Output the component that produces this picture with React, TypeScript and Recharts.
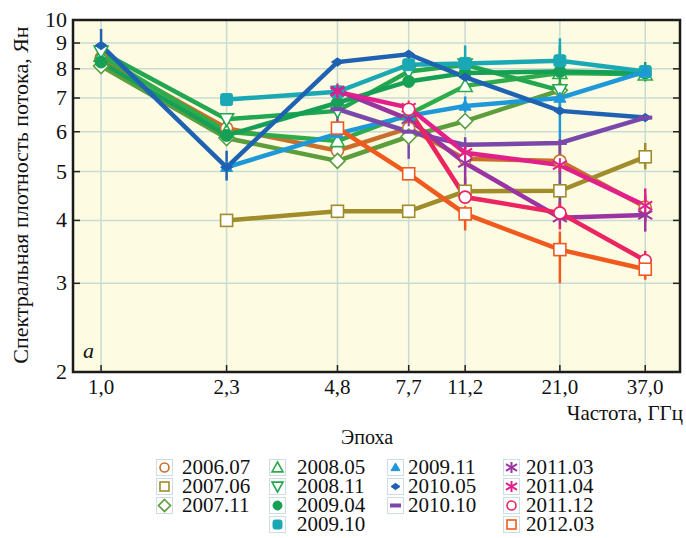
import React from 'react';
import { LineChart, Line, XAxis, YAxis, CartesianGrid, ReferenceArea, ErrorBar, Legend } from 'recharts';

// ---------- data ----------
const freqs = [1.0, 2.3, 4.8, 7.7, 11.2, 21.0, 37.0];
const yTicks = [2, 3, 4, 5, 6, 7, 8, 9, 10];
const epochs = ['2006.07', '2007.06', '2007.11', '2008.05', '2008.11', '2009.04', '2009.10',
  '2009.11', '2010.05', '2010.10', '2011.03', '2011.04', '2011.12', '2012.03'];

const v200607 = [8.4, 6.1, 5.5, 6.1, 5.3, 5.25, 4.25];
const v200706 = [null, 4.0, 4.17, 4.17, 4.57, 4.58, 5.35];
const v200711 = [8.1, 5.83, 5.25, 5.87, 6.3, 7.25, null];
const v200805 = [8.5, 6.0, 5.75, 6.5, 7.4, 7.85, 7.8];
const v200811 = [8.65, 6.35, 6.6, 7.9, 8.15, 7.25, null];
const v200904 = [8.25, 5.9, 6.85, 7.55, 7.85, 7.9, 7.85];
const v200910 = [null, 6.95, 7.2, 8.15, 8.2, 8.3, 7.9];
const v200911 = [null, 5.1, 5.95, 6.45, 6.75, 7.0, 7.9];
const v201005 = [8.9, 5.1, 8.25, 8.55, 7.7, 6.6, 6.4];
const v201010 = [null, null, 6.65, 6.0, 5.65, 5.7, 6.4];
const v201103 = [null, null, 7.25, 6.35, 5.2, 4.05, 4.1];
const v201104 = [null, null, 7.2, 6.7, 5.45, 5.15, 4.28];
const v201112 = [null, null, null, 6.65, 4.45, 4.14, 3.33];
const v201203 = [null, null, 6.1, 4.95, 4.12, 3.5, 3.2];

// error bars [down, up] per frequency (null = none)
const e200607 = [null, null, null, null, null, [0.3, 0.5], null];
const e200706 = [null, [0.1, 0.1], null, null, [0.2, 0.3], [0.4, 1.2], [0.3, 0.35]];
const e200711 = [null, null, null, null, null, null, null];
const e200805 = [null, null, null, null, null, null, null];
const e200811 = [null, null, null, null, null, null, null];
const e200904 = [null, null, null, null, null, [1.3, 1.0], [0.3, 0.4]];
const e200910 = [null, null, null, null, [0.1, 0.7], [0.6, 0.9], null];
const e200911 = [null, null, null, null, [0.2, 0.3], [1.3, 0.3], null];
const e201005 = [[0.3, 0.7], [0.3, 0.4], null, null, null, null, null];
const e201010 = [null, null, [0.6, 0.1], [0.7, 0.3], [0.1, 0.2], [1.6, 0.1], null];
const e201103 = [null, null, null, null, [0.5, 0.4], null, [0.3, 0.4]];
const e201104 = [null, null, null, null, null, null, [0.3, 0.35]];
const e201112 = [null, null, null, null, null, [0.3, 0.2], [0.1, 0.15]];
const e201203 = [null, null, null, null, [0.3, 0.15], [0.5, 0.3], [0.15, 0.1]];

const values = [v200607, v200706, v200711, v200805, v200811, v200904, v200910,
  v200911, v201005, v201010, v201103, v201104, v201112, v201203];
const errors = [e200607, e200706, e200711, e200805, e200811, e200904, e200910,
  e200911, e201005, e201010, e201103, e201104, e201112, e201203];

// ---------- styles ----------
const colors = ['#c8702a', '#a08c2a', '#5c9e3c', '#2eab4a', '#22a750', '#16a055', '#1aa9b4',
  '#1e98d8', '#1f62b2', '#7a48aa', '#9a34a2', '#e2208c', '#ec2462', '#f05a1e'];
const shapes = ['circle', 'square', 'diamond', 'triUp', 'triDown', 'octFilled', 'sqFilled',
  'triFilled', 'diaFilled', 'dash', 'star', 'star', 'circle', 'square'];
const legendCols = [[0, 1, 2], [3, 4, 5, 6], [7, 8, 9], [10, 11, 12, 13]];
const legendIconX = [164, 277, 395, 511];
const legendTextX = [182, 297, 408, 526];

const FONT = '"Times New Roman", "Liberation Serif", Tinos, "Nimbus Roman", Times, serif';
const PL = 73, PR = 680, PT = 20, PB = 372;

const series = epochs.map((name, i) => ({
  name,
  data: freqs
    .map((f, j) => ({ f, v: values[i][j], e: errors[i][j] || [0, 0] }))
    .filter((d) => d.v !== null),
}));

function Marker({ shape, color, cx, cy, s = 6 }: any) {
  const sw = 1.6;
  switch (shape) {
    case 'circle':
      return <circle cx={cx} cy={cy} r={s} fill="#fff" stroke={color} strokeWidth={sw} />;
    case 'square':
      return <rect x={cx - s} y={cy - s} width={2 * s} height={2 * s} fill="#fff" stroke={color} strokeWidth={sw} />;
    case 'diamond': {
      const d = s + 1.5;
      return <polygon points={`${cx},${cy - d} ${cx + d},${cy} ${cx},${cy + d} ${cx - d},${cy}`} fill="#fff" stroke={color} strokeWidth={sw} />;
    }
    case 'triUp': {
      const d = s + 1;
      return <polygon points={`${cx},${cy - d} ${cx + d},${cy + d * 0.8} ${cx - d},${cy + d * 0.8}`} fill="#fff" stroke={color} strokeWidth={sw} />;
    }
    case 'triDown': {
      const d = s + 1;
      return <polygon points={`${cx},${cy + d} ${cx + d},${cy - d * 0.8} ${cx - d},${cy - d * 0.8}`} fill="#fff" stroke={color} strokeWidth={sw} />;
    }
    case 'octFilled':
      return <circle cx={cx} cy={cy} r={s} fill={color} stroke={color} strokeWidth={1} />;
    case 'sqFilled':
      return <rect x={cx - s} y={cy - s} width={2 * s} height={2 * s} rx={2} fill={color} stroke={color} strokeWidth={1} />;
    case 'triFilled': {
      const d = s;
      return <polygon points={`${cx},${cy - d} ${cx + d},${cy + d * 0.7} ${cx - d},${cy + d * 0.7}`} fill={color} stroke={color} strokeWidth={1} />;
    }
    case 'diaFilled': {
      const d = s;
      return <polygon points={`${cx},${cy - d * 0.7} ${cx + d},${cy} ${cx},${cy + d * 0.7} ${cx - d},${cy}`} fill={color} stroke={color} strokeWidth={1} />;
    }
    case 'dash':
      return <rect x={cx - s - 1} y={cy - 2} width={2 * s + 2} height={4} fill={color} />;
    case 'star': {
      const d = s + 1;
      return (
        <g stroke={color} strokeWidth={2}>
          <line x1={cx} y1={cy - d} x2={cx} y2={cy + d} />
          <line x1={cx - d} y1={cy - d * 0.6} x2={cx + d} y2={cy + d * 0.6} />
          <line x1={cx - d} y1={cy + d * 0.6} x2={cx + d} y2={cy - d * 0.6} />
        </g>
      );
    }
    default:
      return <circle cx={cx} cy={cy} r={s} fill={color} />;
  }
}

const YTick = ({ y, payload }: any) => (
  <g>
    <line x1={PL} x2={PL + 7} y1={y} y2={y} stroke="#222" strokeWidth={1.5} />
    <text x={PL - 6} y={y + 7} textAnchor="end" fontFamily={FONT} fontSize={22} fill="#111">
      {payload.value}
    </text>
  </g>
);

const RTick = ({ y }: any) => (
  <line x1={PR - 7} x2={PR} y1={y} y2={y} stroke="#222" strokeWidth={1.5} />
);

const XTick = ({ x, payload }: any) => (
  <g>
    <line x1={x} x2={x} y1={PB} y2={PB - 7} stroke="#222" strokeWidth={1.5} />
    <text x={x} y={PB + 22} textAnchor="middle" fontFamily={FONT} fontSize={21} fill="#111">
      {Number(payload.value).toFixed(1).replace('.', ',')}
    </text>
  </g>
);

const LegendBox = () => (
  <div style={{ position: 'relative', width: 686, height: 113, fontFamily: FONT, color: '#111' }}>
    <div style={{ position: 'absolute', left: 317, width: 100, top: 2, textAlign: 'center', fontSize: 20, lineHeight: '20px' }}>
      Эпоха
    </div>
    {legendCols.map((col, ci) =>
      col.map((si, ri) => (
        <React.Fragment key={epochs[si]}>
          <svg
            width={17}
            height={17}
            style={{ position: 'absolute', left: legendIconX[ci] - 8, top: 34 + ri * 19 }}
          >
            <rect x={0.5} y={0.5} width={16} height={16} fill="#fff" stroke="#cddde2" strokeWidth={1} />
            <Marker shape={shapes[si]} color={colors[si]} cx={8.5} cy={8.5} s={4.5} />
          </svg>
          <div
            style={{
              position: 'absolute',
              left: legendTextX[ci],
              top: 33 + ri * 19,
              fontSize: 21,
              lineHeight: '19px',
              height: 19,
              whiteSpace: 'nowrap',
            }}
          >
            {epochs[si]}
          </div>
        </React.Fragment>
      ))
    )}
  </div>
);

export default function App() {
  return (
    <div style={{ position: 'absolute', left: 0, top: 0, width: 686, height: 538, background: '#fff' }}>
      <LineChart width={686} height={538} margin={{ top: PT, right: 5, left: 13, bottom: 136 }}>
        <CartesianGrid xAxisId="x" yAxisId="l" fill="#fdfbe2" stroke="#c9dbd3" strokeWidth={1.5} />
        <XAxis
          xAxisId="x"
          dataKey="f"
          type="number"
          scale="log"
          domain={[0.83, 46.6]}
          ticks={freqs}
          allowDataOverflow
          height={30}
          axisLine={false}
          tickLine={false}
          tick={<XTick />}
          interval={0}
          label={{
            content: () => (
              <text x={PR + 3} y={420} textAnchor="end" fontFamily={FONT} fontSize={21} fill="#111">
                Частота, ГГц
              </text>
            ),
          }}
        />
        <YAxis
          yAxisId="l"
          type="number"
          scale="log"
          domain={[2, 10]}
          ticks={yTicks}
          allowDataOverflow
          width={60}
          axisLine={false}
          tickLine={false}
          tick={<YTick />}
          interval={0}
          label={{
            content: () => (
              <text
                x={0}
                y={0}
                transform={`translate(28, 195) rotate(-90)`}
                textAnchor="middle"
                fontFamily={FONT}
                fontSize={22}
                fill="#111"
              >
                Спектральная плотность потока, Ян
              </text>
            ),
          }}
        />
        <YAxis
          yAxisId="r"
          orientation="right"
          type="number"
          scale="log"
          domain={[2, 10]}
          ticks={yTicks}
          allowDataOverflow
          width={1}
          axisLine={false}
          tickLine={false}
          tick={<RTick />}
          interval={0}
        />
        {series.map((s, i) => (
          <Line
            key={s.name}
            xAxisId="x"
            yAxisId="l"
            data={s.data}
            dataKey="v"
            name={s.name}
            stroke={colors[i]}
            strokeWidth={4.5}
            isAnimationActive={false}
            legendType="none"
            dot={(p: any) =>
              p.cx == null || p.cy == null ? (
                <g key={`${s.name}-${p.index}`} />
              ) : (
                <Marker key={`${s.name}-${p.index}`} shape={shapes[i]} color={colors[i]} cx={p.cx} cy={p.cy} />
              )
            }
            activeDot={false}
          >
            <ErrorBar dataKey="e" direction="y" width={0} stroke={colors[i]} strokeWidth={2.5} />
          </Line>
        ))}
        <ReferenceArea
          xAxisId="x"
          yAxisId="l"
          x1={0.83}
          x2={46.6}
          y1={2}
          y2={10}
          fill="none"
          fillOpacity={0}
          stroke="#1a1a1a"
          strokeWidth={2.5}
          ifOverflow="visible"
          label={{
            content: () => (
              <text x={83} y={358} fontFamily={FONT} fontStyle="italic" fontSize={22} fill="#111">
                a
              </text>
            ),
          }}
        />
        <Legend
          layout="horizontal"
          verticalAlign="middle"
          align="center"
          content={() => <LegendBox />}
          wrapperStyle={{ position: 'absolute', left: 0, top: 425, width: 686, height: 113 }}
        />
      </LineChart>
    </div>
  );
}
